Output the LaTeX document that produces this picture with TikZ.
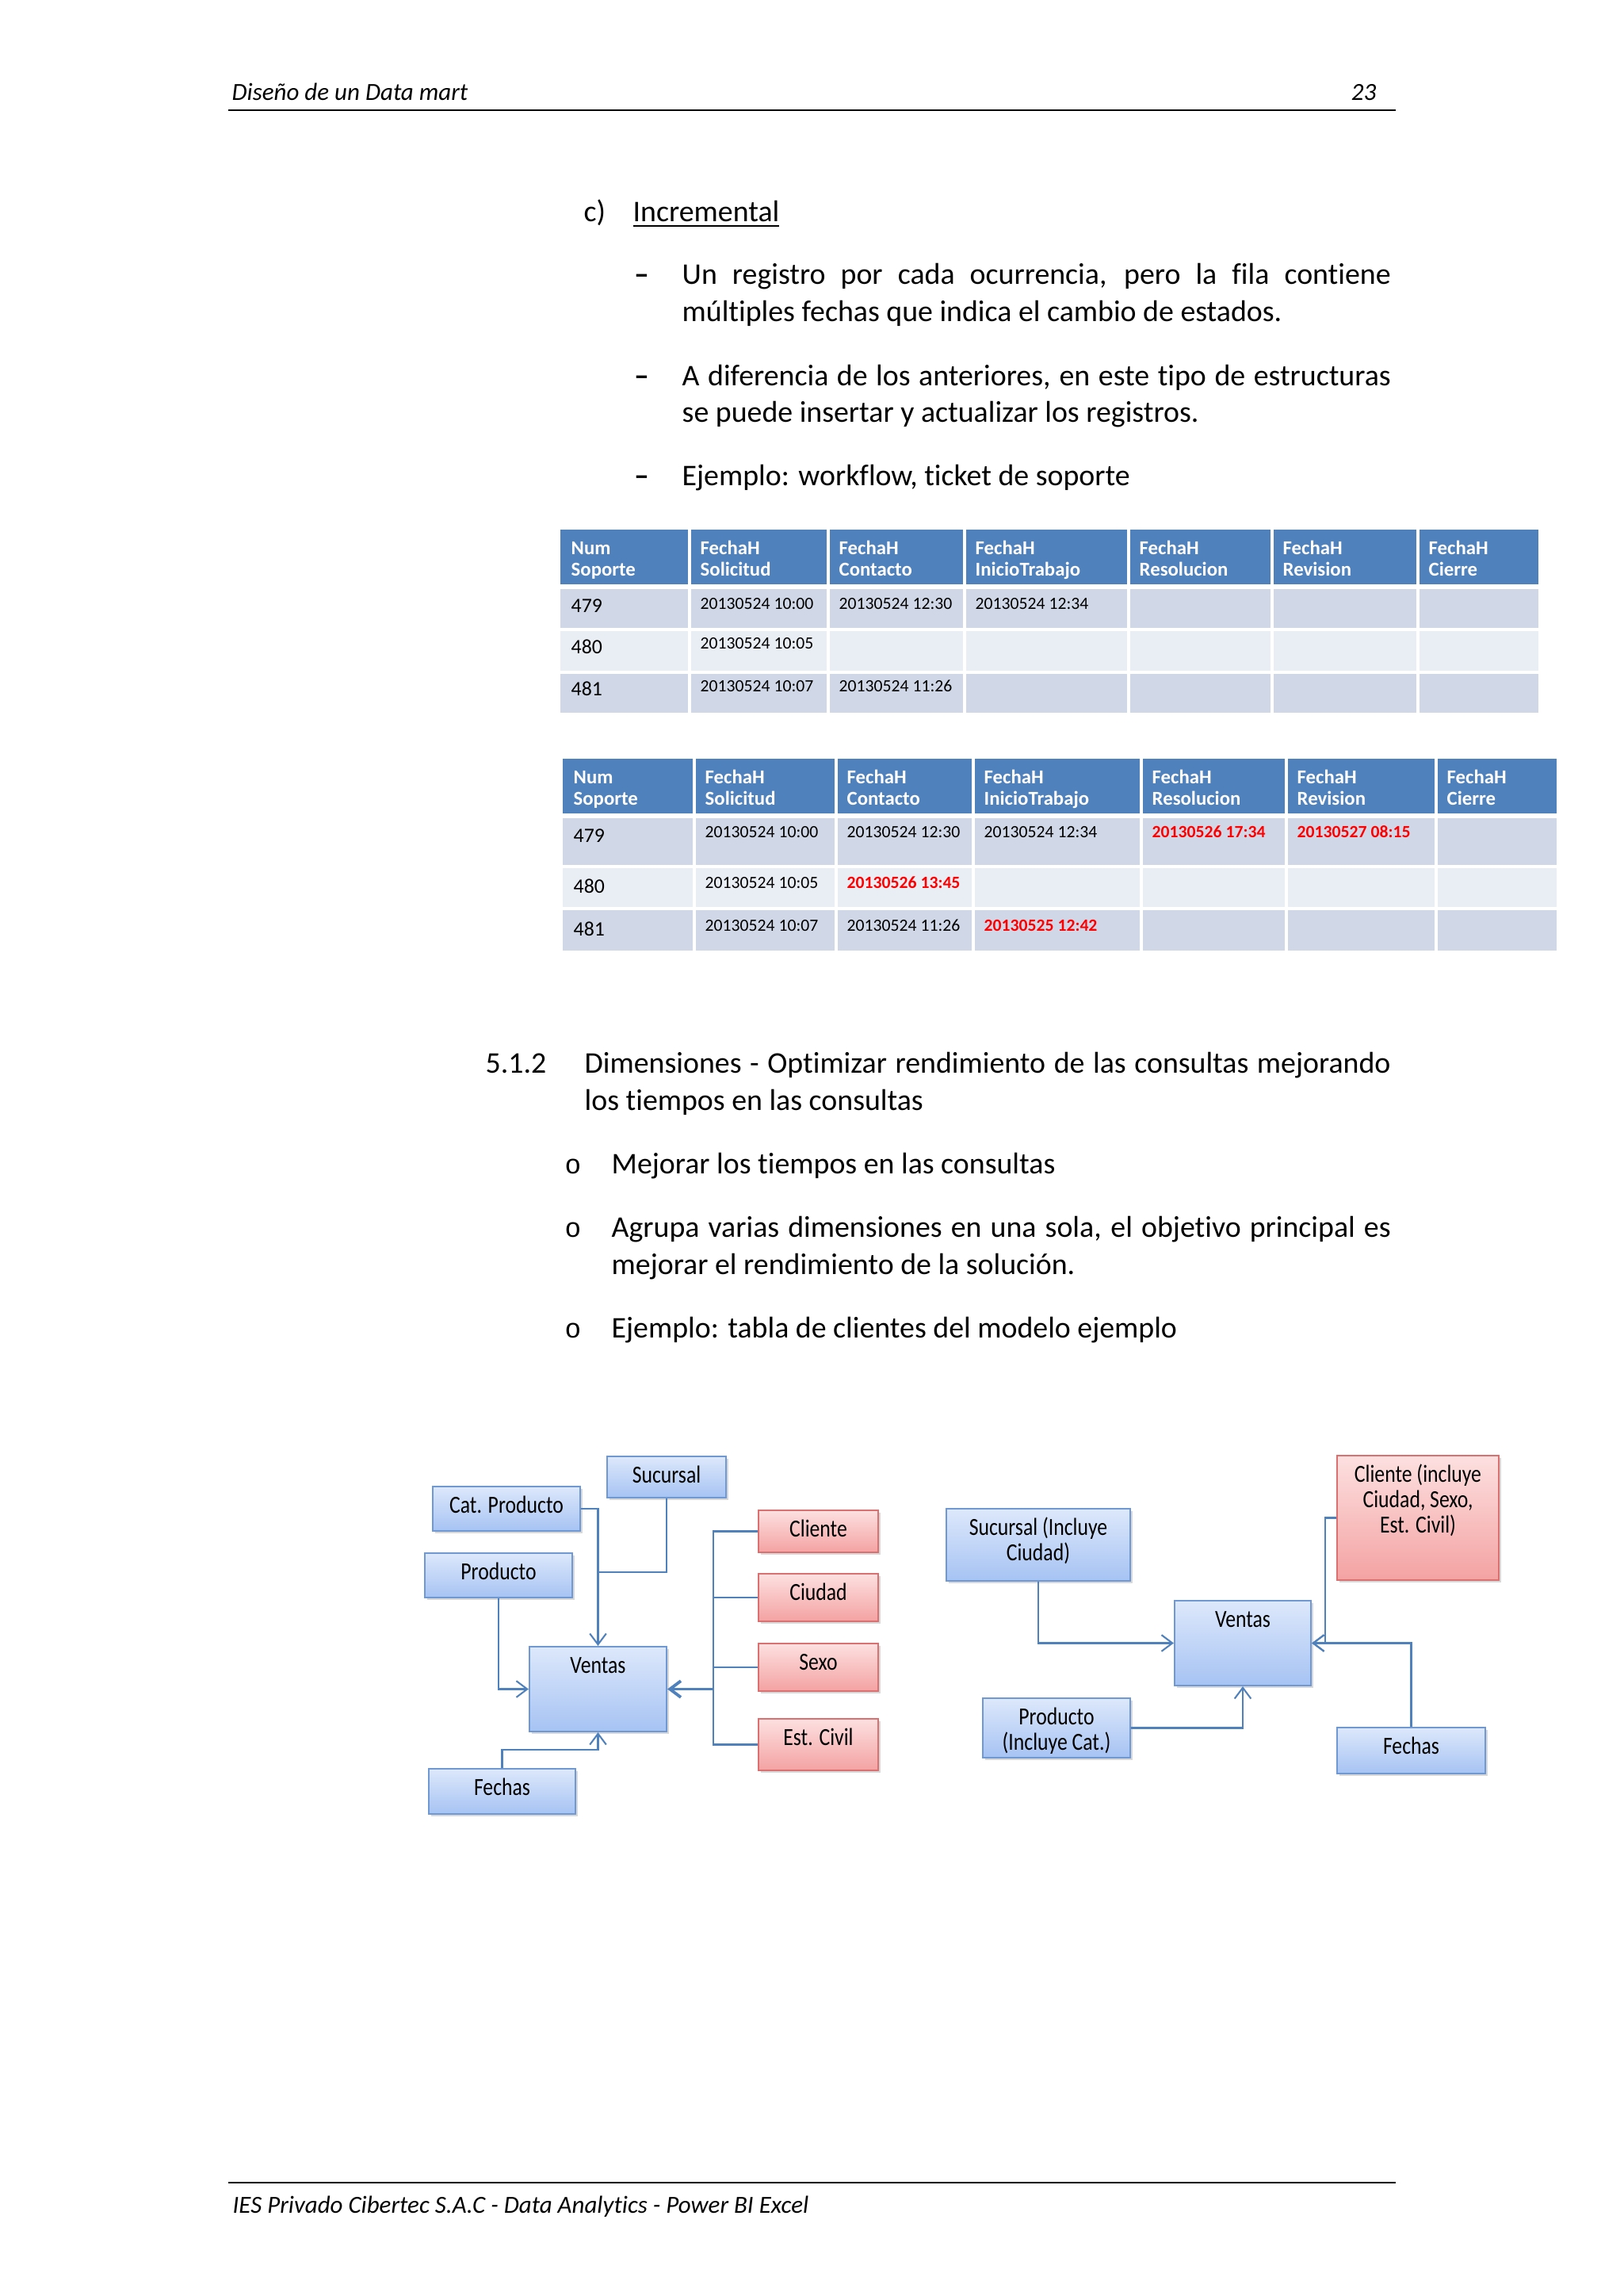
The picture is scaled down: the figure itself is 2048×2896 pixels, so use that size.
\documentclass[tikz,border=0pt]{standalone}
\usepackage{fontspec}
\setmainfont{Carlito}[Ligatures=NoCommon]
\newfontfamily\bulletfont{Liberation Mono}
\newfontfamily\boxfont{Carlito}[FakeStretch=0.83,Ligatures=NoCommon]
\usepackage{tikz}
\usetikzlibrary{arrows.meta,calc,positioning,shadows}
\definecolor{hdrblue}{RGB}{79,129,189}
\definecolor{rowdark}{RGB}{208,216,232}
\definecolor{rowlight}{RGB}{233,237,244}
\definecolor{linkblue}{RGB}{79,129,189}
\definecolor{boxtop}{RGB}{221,232,251}
\definecolor{boxbot}{RGB}{166,195,243}
\definecolor{boxline}{RGB}{112,152,210}
\definecolor{redtop}{RGB}{253,224,224}
\definecolor{redbot}{RGB}{244,162,162}
\definecolor{redline}{RGB}{218,112,112}
\definecolor{hotred}{RGB}{255,0,0}
\newcommand{\boxtxt}[3]{\parbox[c][#2][t]{#1}{\boxfont\fontsize{9}{9.3}\selectfont\centering\rule{0pt}{9.8pt}#3}}

\begin{document}
\begin{tikzpicture}[x=0.2906pt,y=-0.2906pt,
  body/.style={anchor=base west,inner sep=0pt,font=\fontsize{11}{13.4}\selectfont},
  pagetxt/.style={anchor=base west,inner sep=0pt,font=\fontsize{9}{11}\selectfont\itshape},
  hdrtxt/.style={anchor=base west,inner sep=0pt,text=white,font=\fontsize{7.2}{8}\selectfont\bfseries},
  numtxt/.style={anchor=base west,inner sep=0pt,font=\fontsize{7.5}{8}\selectfont},
  datetxt/.style={anchor=base west,inner sep=0pt,font=\fontsize{6.3}{7}\selectfont},
  newtxt/.style={anchor=base west,inner sep=0pt,text=hotred,font=\fontsize{6.3}{7}\selectfont\bfseries},
  dimbox/.style={draw=boxline,line width=0.6pt,top color=boxtop,bottom color=boxbot,inner sep=0pt,
    drop shadow={opacity=0.3,shadow xshift=0.9pt,shadow yshift=-0.9pt}},
  redbox/.style={dimbox,draw=redline,top color=redtop,bottom color=redbot},
  link/.style={draw=linkblue,line width=0.6pt},
  linkarr/.style={link,-{Straight Barb[length=4pt,width=6pt]}},
]
\fill[white] (0,0) rectangle (2048,2896);
\useasboundingbox (0,0) rectangle (2048,2896);

% cabecera y pie
\node[pagetxt] (tit) at (292,127) {Diseño de un Data mart};
\node[pagetxt,anchor=base east] (pag) at (1737,127) {23};
\draw[line width=0.6pt] (288,139) -- (1761,139);
\draw[line width=0.6pt] (288,2753) -- (1761,2753);
\node[pagetxt] (pie) at (293,2791) {IES Privado Cibertec S.A.C - Data Analytics - Power BI Excel};

% c) incremental
\node[body] (c) at (736,280) {c)};
\node[body] (inc) at (798,280) {\underline{Incremental}};
\foreach \y in {359,487,613}
  \node[body] (dash\y) at (800,\y) {\textbf{–}};
\node[body] (l1) at (860,359) {\makebox[259.8pt][s]{Un registro por cada ocurrencia, pero la fila contiene}};
\node[body] (l2) at (860,406) {múltiples fechas que indica el cambio de estados.};
\node[body] (l3) at (860,487) {\makebox[259.8pt][s]{A diferencia de los anteriores, en este tipo de estructuras}};
\node[body] (l4) at (860,533) {se puede insertar y actualizar los registros.};
\node[body] (l5) at (860,613) {Ejemplo: workflow, ticket de soporte};

% tabla 1
\fill[hdrblue] (707,668) rectangle (1941,740);
\fill[rowdark] (707,740) rectangle (1941,794);
\fill[rowlight] (707,794) rectangle (1941,848);
\fill[rowdark] (707,848) rectangle (1941,899);
\foreach \c in {870,1045,1217,1424,1605,1789}
  \draw[white,line width=1pt] (\c,668) -- (\c,899);
\foreach \r in {794,848}
  \draw[white,line width=1pt] (707,\r) -- (1941,\r);
\draw[white,line width=1.5pt] (707,740) -- (1941,740);
\foreach \c/\a/\b in {707/Num/Soporte,870/FechaH/Solicitud,1045/FechaH/Contacto,
    1217/FechaH/InicioTrabajo,1424/FechaH/Resolucion,1605/FechaH/Revision,1789/FechaH/Cierre}{
  \node[hdrtxt] at ({\c+13},700) {\a};
  \node[hdrtxt] at ({\c+13},727) {\b};
}
\node[numtxt] (a479) at (720,773) {479};
\node[datetxt] at (883,768) {20130524 10:00};
\node[datetxt] at (1058,768) {20130524 12:30};
\node[datetxt] at (1230,768) {20130524 12:34};
\node[numtxt] (a480) at (720,824) {480};
\node[datetxt] at (883,819) {20130524 10:05};
\node[numtxt] (a481) at (720,877) {481};
\node[datetxt] at (883,872) {20130524 10:07};
\node[datetxt] at (1058,872) {20130524 11:26};

% tabla 2
\fill[hdrblue] (710,957) rectangle (1964,1029);
\fill[rowdark] (710,1029) rectangle (1964,1093);
\fill[rowlight] (710,1093) rectangle (1964,1146);
\fill[rowdark] (710,1146) rectangle (1964,1199);
\foreach \c in {876,1055,1228,1440,1623,1812}
  \draw[white,line width=1pt] (\c,957) -- (\c,1199);
\foreach \r in {1093,1146}
  \draw[white,line width=1pt] (710,\r) -- (1964,\r);
\draw[white,line width=1.5pt] (710,1029) -- (1964,1029);
\foreach \c/\a/\b in {710/Num/Soporte,876/FechaH/Solicitud,1055/FechaH/Contacto,
    1228/FechaH/InicioTrabajo,1440/FechaH/Resolucion,1623/FechaH/Revision,1812/FechaH/Cierre}{
  \node[hdrtxt] at ({\c+13},988) {\a};
  \node[hdrtxt] at ({\c+13},1015) {\b};
}
\node[numtxt] (b479) at (723,1062) {479};
\node[datetxt] at (889,1056) {20130524 10:00};
\node[datetxt] at (1068,1056) {20130524 12:30};
\node[datetxt] at (1241,1056) {20130524 12:34};
\node[newtxt] at (1453,1056) {20130526 17:34};
\node[newtxt] at (1636,1056) {20130527 08:15};
\node[numtxt] (b480) at (723,1126) {480};
\node[datetxt] at (889,1120) {20130524 10:05};
\node[newtxt] at (1068,1120) {20130526 13:45};
\node[numtxt] (b481) at (723,1180) {481};
\node[datetxt] at (889,1174) {20130524 10:07};
\node[datetxt] at (1068,1174) {20130524 11:26};
\node[newtxt] at (1241,1174) {20130525 12:42};

% 5.1.2 dimensiones
\node[body] (sec) at (612,1353) {5.1.2};
\node[body] (s1) at (737,1353) {\makebox[295.5pt][s]{Dimensiones - Optimizar rendimiento de las consultas mejorando}};
\node[body] (s2) at (737,1400) {los tiempos en las consultas};
\foreach \y in {1480,1560,1687}
  \node[body,font=\fontsize{10}{12}\bulletfont] (o\y) at (712,\y) {o};
\node[body] (b1) at (771,1480) {Mejorar los tiempos en las consultas};
\node[body] (b2) at (771,1560) {\makebox[285.7pt][s]{Agrupa varias dimensiones en una sola, el objetivo principal es}};
\node[body] (b3) at (771,1607) {mejorar el rendimiento de la solución.};
\node[body] (b4) at (771,1687) {Ejemplo: tabla de clientes del modelo ejemplo};

% modelo con dimensiones separadas
\node[dimbox] (suc) at (841,1863) {\boxtxt{43.6pt}{15.1pt}{Sucursal}};
\node[dimbox] (catp) at (639,1903) {\boxtxt{54.1pt}{16.3pt}{Cat. Producto}};
\node[dimbox] (prod) at (629,1987) {\boxtxt{54.1pt}{16.3pt}{Producto}};
\node[dimbox] (ven) at (754.5,2130.5) {\boxtxt{50.3pt}{31.1pt}{Ventas}};
\node[dimbox] (fec) at (633.5,2259.5) {\boxtxt{53.8pt}{16.6pt}{Fechas}};
\node[redbox] (cli) at (1032.5,1931.5) {\boxtxt{43.9pt}{15.4pt}{Cliente}};
\node[redbox] (ciu) at (1032.5,2015) {\boxtxt{43.9pt}{17.4pt}{Ciudad}};
\node[redbox] (sex) at (1032.5,2103) {\boxtxt{43.9pt}{17.4pt}{Sexo}};
\node[redbox] (est) at (1032.5,2200.5) {\boxtxt{43.9pt}{18.9pt}{Est. Civil}};
\coordinate (j1) at (754.5,1983);
\coordinate (j2) at (754.5,2207);
\coordinate (bus) at (900,2130.5);
\draw[linkarr] (catp.east) -| (ven.north);
\draw[link] (suc.south) |- (j1);
\draw[linkarr] (prod.south) |- (ven.west);
\draw[linkarr] (fec.north) |- (j2) -- (ven.south);
\draw[link] (cli.west) -| (bus);
\draw[link] (est.west) -| (bus);
\draw[link] (ciu.west) -- (ciu.west -| bus);
\draw[link] (sex.west) -- (sex.west -| bus);
\draw[linkarr,line width=1.1pt] (bus) -- (ven.east);

% modelo con dimensiones agrupadas
\node[dimbox] (suc2) at (1310,1948.5) {\boxtxt{67.4pt}{26.4pt}{Sucursal (Incluye\\Ciudad)}};
\node[redbox] (cli2) at (1789,1914.5) {\boxtxt{59.3pt}{45.6pt}{Cliente (incluye\\Ciudad, Sexo,\\Est. Civil)}};
\node[dimbox] (ven2) at (1568,2072.5) {\boxtxt{50pt}{31.1pt}{Ventas}};
\node[dimbox] (prod2) at (1333,2179.5) {\boxtxt{54.1pt}{21.8pt}{Producto\\(Incluye Cat.)}};
\node[dimbox] (fec2) at (1780.5,2208) {\boxtxt{54.3pt}{16.9pt}{Fechas}};
\coordinate (j3) at (1672,2072.5);
\draw[linkarr] (suc2.south) |- (ven2.west);
\draw[linkarr] (cli2.west) -| (j3) -- (ven2.east);
\draw[linkarr] (fec2.north) |- (ven2.east);
\draw[linkarr] (prod2.east) -| (ven2.south);
\end{tikzpicture}
\end{document}
